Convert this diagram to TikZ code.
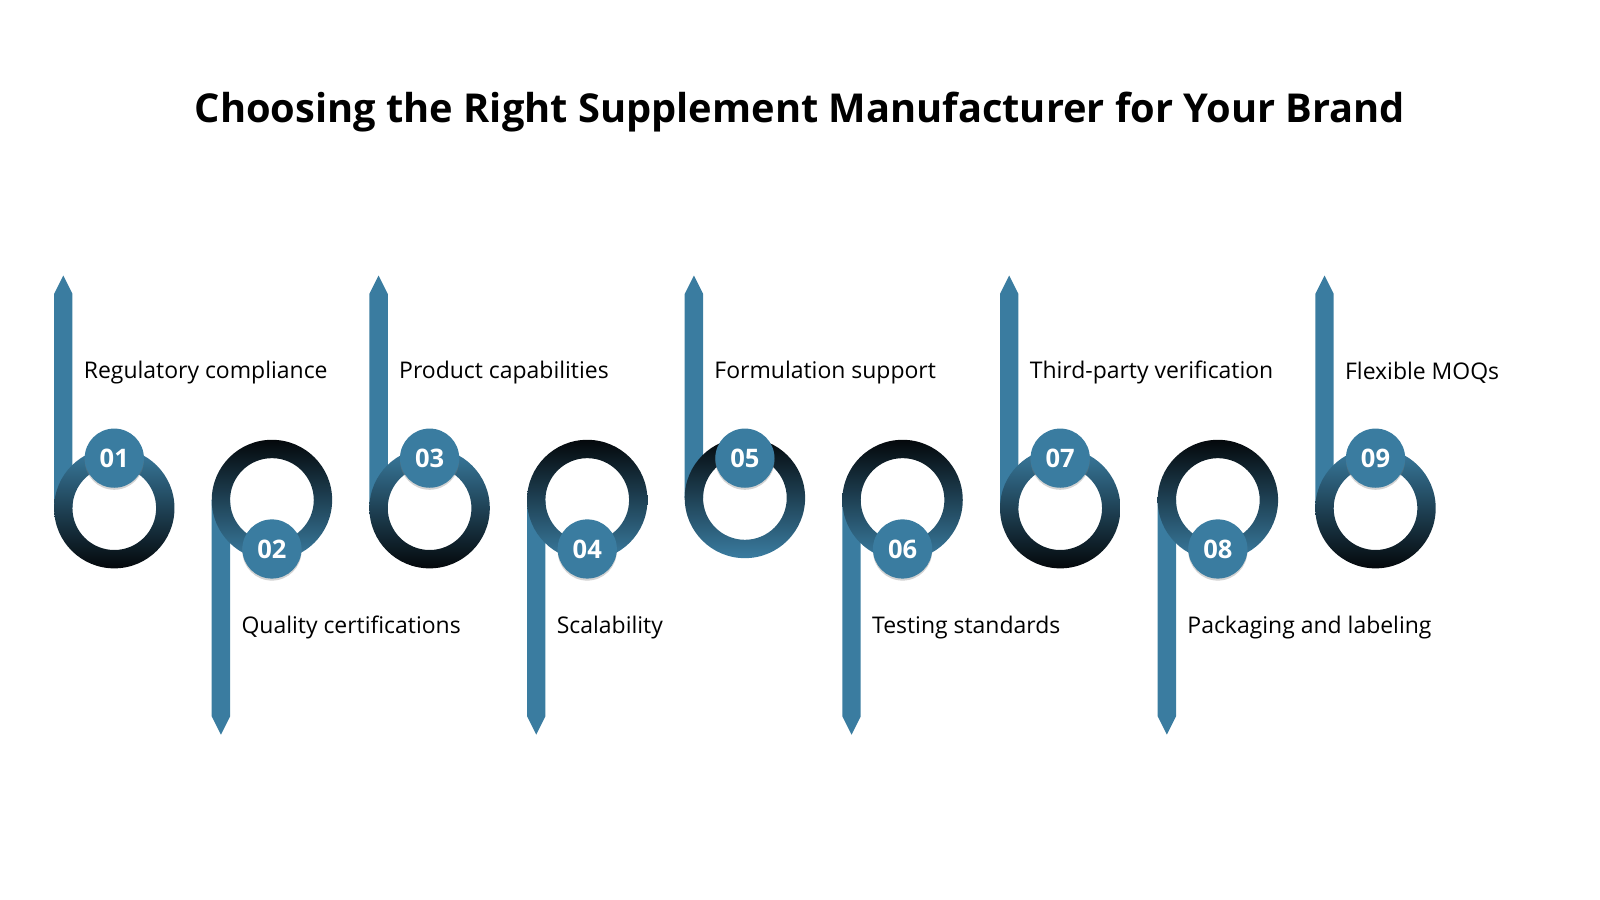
\documentclass[tikz,border=0pt]{standalone}
\usepackage{fontspec}
\setmainfont{Open Sans}
\usetikzlibrary{shadows}
\definecolor{bl}{HTML}{3A7CA0}
\definecolor{dk}{HTML}{04080B}
\tikzset{
 badge/.style={circle,fill=bl,minimum size=58pt,inner sep=0pt,text=white,font=\fontsize{25pt}{25pt}\selectfont\bfseries,drop shadow={opacity=0.35,shadow xshift=0pt,shadow yshift=-2pt}},
 lbl/.style={anchor=west,font=\fontsize{22.5pt}{22.5pt}\selectfont,text=black,inner sep=0pt}
}
\begin{document}
\begin{tikzpicture}[x=1pt,y=-1pt]
\useasboundingbox (0,0) rectangle (1568,882);
\node (title) at (784,110) {\fontsize{39pt}{39pt}\selectfont\bfseries Choosing the Right Supplement Manufacturer for Your Brand};
\foreach \i/\t [count=\k] in {01/Regulatory compliance,02/Quality certifications,03/Product capabilities,04/Scalability,05/Formulation support,06/Testing standards,07/Third-party verification,08/Packaging and labeling,09/Flexible MOQs}{
 \pgfmathsetmacro{\cx}{112+154.5*(\k-1)}
 \pgfmathtruncatemacro{\odd}{mod(\k,2)}
 \ifnum\odd=1
  \ifnum\k=5
   \fill[bl] (\cx-59,488) -- (\cx-59,288) -- (\cx-50,270) -- (\cx-41,288) -- (\cx-41,488) -- cycle;
   \shade[top color=dk,bottom color=bl,even odd rule] (\cx,488) circle (59) (\cx,488) circle (41);
   \node[badge] (b\k) at (\cx,449) {\i};
  \else
   \fill[bl] (\cx-59,498) -- (\cx-59,288) -- (\cx-50,270) -- (\cx-41,288) -- (\cx-41,498) -- cycle;
   \shade[top color=bl,bottom color=dk,even odd rule] (\cx,498) circle (59) (\cx,498) circle (41);
   \node[badge] (b\k) at (\cx,449) {\i};
  \fi
  \node[lbl] (l\k) at (\cx-30,365) {\t};
 \else
  \fill[bl] (\cx-59,490) -- (\cx-59,702) -- (\cx-50,720) -- (\cx-41,702) -- (\cx-41,490) -- cycle;
  \shade[top color=dk,bottom color=bl,even odd rule] (\cx,490) circle (59) (\cx,490) circle (41);
  \node[badge] (b\k) at (\cx,538) {\i};
  \node[lbl] (l\k) at (\cx-30,615) {\t};
 \fi
}
\end{tikzpicture}
\end{document}
